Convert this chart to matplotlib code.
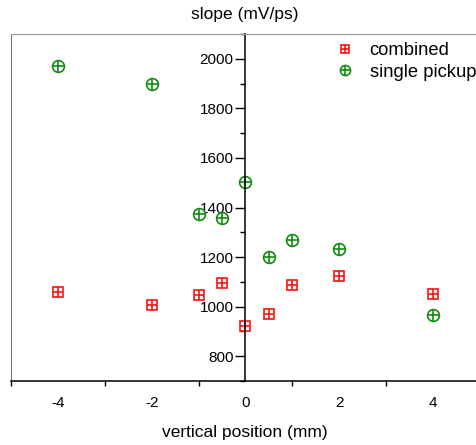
import matplotlib.pyplot as plt
import numpy as np
from matplotlib.ticker import MultipleLocator, FixedLocator

plt.rcParams['font.family'] = ['Liberation Sans', 'DejaVu Sans']
plt.rcParams['axes.unicode_minus'] = False

# vertical position (mm)
pos = [-4, -2, -1, -0.5, 0, 0.5, 1, 2, 4]
# slope (mV/ps)
combined = [1058, 1007, 1046, 1096, 923, 970, 1088, 1123, 1050]
single_pickup = [1972, 1897, 1374, 1359, 1501, 1200, 1268, 1233, 965]

red = '#ff1010'
green = '#128a12'

fig = plt.figure(figsize=(4.77, 4.45), dpi=100)
ax = fig.add_axes([11 / 477, 64 / 445, 469 / 477, 347 / 445])

# square with plus, circle with plus
h1a, = ax.plot(pos, combined, 's', ms=7.5, mfc='white', mec=red, mew=1.2, ls='none')
h1b, = ax.plot(pos, combined, '+', ms=7.5, mec=red, mew=1.2, ls='none')
h2a, = ax.plot(pos, single_pickup, 'o', ms=8.5, mfc='white', mec=green, mew=1.2, ls='none')
h2b, = ax.plot(pos, single_pickup, '+', ms=8.5, mec=green, mew=1.2, ls='none')

ax.set_xlim(-5, 5)
ax.set_ylim(700, 2100)

# axis spines
ax.spines['left'].set_position(('data', 0))
ax.spines['left'].set_linewidth(1.1)
ax.spines['bottom'].set_linewidth(1.1)
ax.spines['top'].set_color('#999999')
ax.spines['right'].set_visible(False)
ax.axvline(-5, color='#555555', lw=1.2)

ax.xaxis.set_major_locator(FixedLocator([-4, -2, 0, 2, 4]))
ax.xaxis.set_minor_locator(FixedLocator([-5, -3, -1, 1, 3, 5]))
ax.yaxis.set_major_locator(MultipleLocator(200))
ax.yaxis.set_minor_locator(MultipleLocator(100))
ax.set_yticks([800, 1000, 1200, 1400, 1600, 1800, 2000])

ax.tick_params(axis='x', which='major', length=0, pad=11, labelsize=11)
ax.tick_params(axis='x', which='minor', direction='out', length=3.5, width=1)
ax.tick_params(axis='y', which='major', direction='out', length=7, width=1, pad=1.5, labelsize=11)
ax.tick_params(axis='y', which='minor', direction='out', length=3.6, width=1)

fig.text(245 / 477, 1 - 15 / 445, 'slope (mV/ps)', ha='center', va='center', fontsize=12.5)
fig.text(245 / 477, 1 - 433 / 445, 'vertical position (mm)', ha='center', va='center', fontsize=12.5)

leg = ax.legend([(h1a, h1b), (h2a, h2b)], ['combined', 'single pickup'],
                loc='upper left', bbox_to_anchor=(322 / 477, 1 - 33 / 445),
                bbox_transform=fig.transFigure, frameon=False, fontsize=13.2,
                borderpad=0, handlelength=1.5, handletextpad=0.6, labelspacing=0.25,
                markerscale=0.85)

fig.savefig('out.png', dpi=100)
